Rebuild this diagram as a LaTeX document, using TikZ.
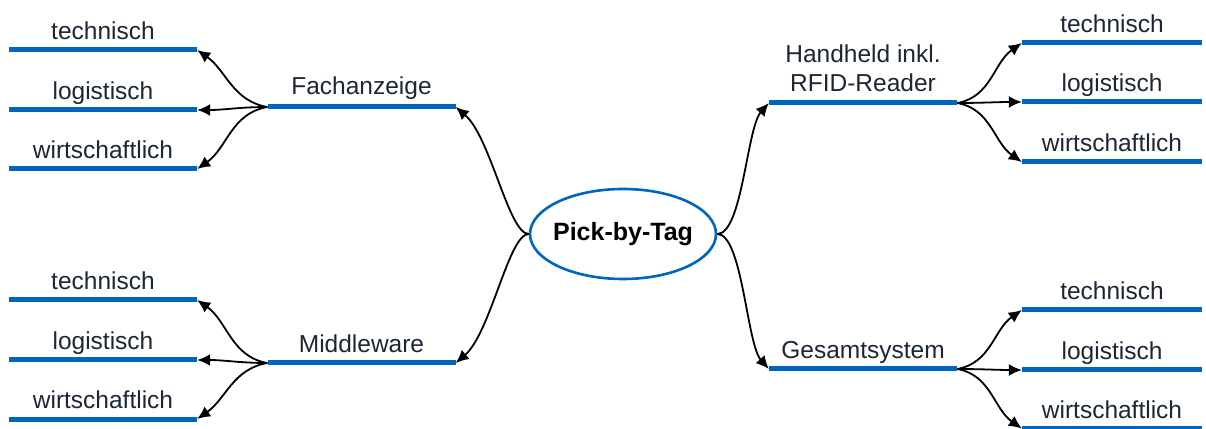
\documentclass[tikz,border=0pt]{standalone}
\usepackage{fontspec}
\setmainfont{Liberation Sans}
\usetikzlibrary{shapes.geometric,arrows.meta,calc}

\definecolor{barblue}{RGB}{0,101,189}
\definecolor{txt}{RGB}{28,38,52}

\tikzset{
  lbar/.style={fill=barblue, inner sep=0pt, minimum height=5pt, minimum width=188pt},
  rbar/.style={fill=barblue, inner sep=0pt, minimum height=5pt, minimum width=180pt},
  lbl/.style={text=txt, inner sep=0pt, anchor=base,
              font=\fontsize{24.5}{29}\selectfont},
  conn/.style={draw=black, line width=1.8pt,
               -{Latex[length=13pt,width=12pt]}},
  hub/.style={ellipse, draw=barblue, line width=2.6pt, fill=white,
              minimum width=186pt, minimum height=90pt, inner sep=0pt,
              font=\bfseries\fontsize{25}{30}\selectfont}
}

\begin{document}
\begin{tikzpicture}[x=1pt,y=1pt]
\path[clip] (0,0) rectangle (1206,428);

% central topic (text in a zero-width box so the ellipse keeps its size)
\node[hub] (pbt) at (623,194) {\makebox[0pt]{Pick-by-Tag}};

% main branches
\node[lbar] (fa) at (361.5,321) {};
\node[lbar] (mw) at (361.5,65) {};
\node[lbar] (hh) at (863,325) {};
\node[lbar] (gs) at (863,59) {};

\node[lbl] (faT) at ($(fa)+(0,12)$) {Fachanzeige};
\node[lbl] (mwT) at ($(mw)+(0,10.5)$) {Middleware};
\node[lbl, align=center, anchor=south] (hhT) at ($(hh)+(0,11)$) {Handheld inkl.\\RFID-Reader};
\node[lbl] (gsT) at ($(gs)+(0,10.5)$) {Gesamtsystem};

% leaves: Fachanzeige
\node[lbar] (fa1) at (103,378) {};
\node[lbar] (fa2) at (103,318) {};
\node[lbar] (fa3) at (103,259) {};
% leaves: Middleware
\node[lbar] (mw1) at (103,128) {};
\node[lbar] (mw2) at (103,68) {};
\node[lbar] (mw3) at (103,9) {};
% leaves: Handheld
\node[rbar] (hh1) at (1112,385) {};
\node[rbar] (hh2) at (1112,326) {};
\node[rbar] (hh3) at (1112,266) {};
% leaves: Gesamtsystem
\node[rbar] (gs1) at (1112,118) {};
\node[rbar] (gs2) at (1112,58) {};
\node[rbar] (gs3) at (1112,-0.5) {};

\foreach \n in {fa,mw,hh,gs}{
  \node[lbl] (\n1T) at ($(\n1)+(0,10.5)$) {technisch};
  \node[lbl] (\n2T) at ($(\n2)+(0,10.5)$) {logistisch};
  \node[lbl] (\n3T) at ($(\n3)+(0,10.5)$) {wirtschaftlich};
}

% connectors from the central topic
\draw[conn] (pbt.west) .. controls +(-20,0) and +(35,-30) .. (fa.east);
\draw[conn] (pbt.west) .. controls +(-20,0) and +(35,30) .. (mw.east);
\draw[conn] (pbt.east) .. controls +(25,0) and +(-22,-25) .. (hh.west);
\draw[conn] (pbt.east) .. controls +(25,0) and +(-22,25) .. (gs.west);

% connectors to the leaves
\foreach \n in {fa,mw}{
  \draw[conn] (\n.west) to[out=170,in=-35] (\n1.east);
  \draw[conn] (\n.west) to[out=180,in=0] (\n2.east);
  \draw[conn] (\n.west) to[out=190,in=35] (\n3.east);
}
\foreach \n in {hh,gs}{
  \draw[conn] (\n.east) to[out=10,in=-145] (\n1.west);
  \draw[conn] (\n.east) to[out=0,in=180] (\n2.west);
  \draw[conn] (\n.east) to[out=-10,in=145] (\n3.west);
}
\end{tikzpicture}
\end{document}
